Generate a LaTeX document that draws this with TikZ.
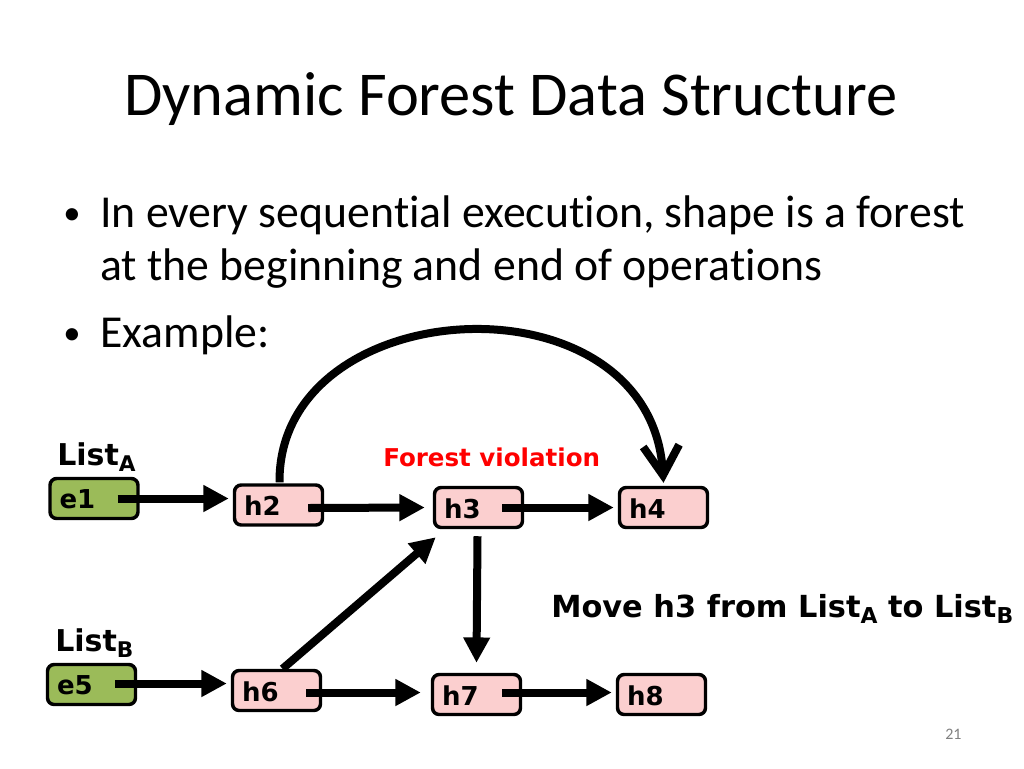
\documentclass[tikz,border=0pt]{standalone}
\usepackage{fontspec}
\setmainfont{Carlito}[RawFeature=-liga]
\newfontfamily\comic{DejaVu Sans}
\usetikzlibrary{arrows.meta,calc}
\definecolor{boxgreen}{HTML}{9BBB59}
\definecolor{boxpink}{HTML}{FBCFCF}
\definecolor{violred}{HTML}{FF0000}
\newcommand{\lsub}[1]{\raisebox{-0.4ex}{\fontsize{0.72\dimexpr\fontdimen6\font\relax}{10}\selectfont #1}}
\begin{document}
\begin{tikzpicture}[x=0.75pt,y=-0.75pt,
  cell/.style={draw=black,line width=2.6pt,rounded corners=5pt,minimum width=66pt,minimum height=30pt,inner sep=0pt},
  gcell/.style={cell,fill=boxgreen},
  pcell/.style={cell,fill=boxpink},
  celltext/.style={font=\comic\bfseries\fontsize{19.5}{19.5}\selectfont,anchor=west,inner sep=0pt},
  lbl/.style={font=\comic\bfseries\fontsize{22.5}{22.5}\selectfont,inner sep=0pt},
  link/.style={line width=6pt,-{Triangle[length=19pt,width=19pt]}},
  bul/.style={font=\fontsize{34.3}{34.3}\selectfont,anchor=base west,inner sep=0pt},
  dot/.style={font=\fontsize{26}{26}\selectfont,anchor=base west,inner sep=0pt}]
\useasboundingbox[fill=white] (0,0) rectangle (1024,768);
% title and bullets
\node[font=\fontsize{46.8}{46.8}\selectfont,anchor=base west,inner sep=0pt] (title) at (124,115) {Dynamic Forest Data Structure};
\node[dot] (b1) at (63,224) {•};
\node[bul] (t1) at (100,227) {In every sequential execution, shape is a forest};
\node[bul] (t2) at (100,280) {at the beginning and end of operations};
\node[dot] (b2) at (63,344) {•};
\node[bul] (t3) at (100,347) {Example:};
% boxes
\node[gcell] (e1) at (94,498.5) {};
\node[pcell] (h2) at (278.5,505) {};
\node[pcell] (h3) at (478.5,507.5) {};
\node[pcell] (h4) at (663.5,507.5) {};
\node[gcell] (e5) at (91.5,684.5) {};
\node[pcell] (h6) at (276.5,690.5) {};
\node[pcell] (h7) at (476.5,694.5) {};
\node[pcell] (h8) at (661.5,694.5) {};
\foreach \n/\t in {e1/e1,h2/h2,h3/h3,h4/h4,e5/e5,h6/h6,h7/h7,h8/h8}
  \node[celltext] (\n t) at ($(\n.west)+(11,1)$) {\t};
% labels
\node[lbl,anchor=base west] (la) at (57,465) {List\lsub{A}};
\node[lbl,anchor=base west] (lb) at (55,651) {List\lsub{B}};
\node[lbl,anchor=base west,text=violred,font=\comic\bfseries\fontsize{18.4}{18.4}\selectfont] (fv) at (383,466) {Forest violation};
\node[lbl,anchor=base west,font=\comic\bfseries\fontsize{22.8}{22.8}\selectfont] (mv) at (551,617) {Move h3 from List\lsub{A} to List\lsub{B}};
\node[font=\fontsize{12}{12}\selectfont,text=gray,anchor=base west,inner sep=0pt] (pg) at (945,739) {21};
% arrows
\draw[link] ($(e1.east)+(-22,0)$) -- ($(h2.west|-e1.east)+(-4,0)$);
\draw[link] ($(h2.east)+(-16,3)$) -- ($(h3.west)+(-8,0)$);
\draw[link] ($(h3.east)+(-22,0)$) -- ($(h4.west)+(-4,0)$);
\draw[link] ($(e5.east)+(-22,-1)$) -- ($(h6.west|-e5.east)+(-4,-1)$);
\draw[link] ($(h6.east)+(-16,2)$) -- ($(h7.west)+(-10,-2)$);
\draw[link] ($(h7.east)+(-20,-2)$) -- ($(h8.west)+(-4,-2)$);
\draw[link] ($(h3.south)+(-1,7)$) -- ($(h7.north)+(0,-10)$);
\draw[link] ($(h6.north)+(6,0)$) -- ($(h3.south west)+(3,8)$);
\draw[line width=6pt,-{Straight Barb[length=22pt,width=27pt,line width=6pt]}]
  ($(h2.north)+(1,-1)$) .. controls (278,290) and (650,270) .. ($(h4.north)+(0,-3)$);
\end{tikzpicture}
\end{document}
